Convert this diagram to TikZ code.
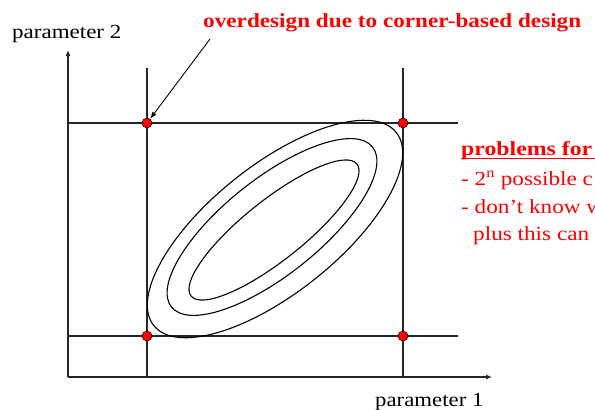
\documentclass[tikz,border=0pt]{standalone}
\usepackage{fontspec}
\setmainfont{Liberation Serif}
\usetikzlibrary{arrows.meta}
\tikzset{
  axisline/.style={line width=1.1pt, draw=black!85},
  gridline/.style={line width=1.1pt, draw=black!85},
  contour/.style={line width=1.1pt, draw=black},
  corner/.style={circle, fill=red, draw=black, line width=0.5pt, minimum size=10pt, inner sep=0pt},
  lab/.style={inner sep=0pt, anchor=base west, font=\fontsize{20}{24}\selectfont},
  redlab/.style={lab, text=red},
}
\newcommand{\wide}[2]{\scalebox{#1}[1]{#2}}
\begin{document}
\begin{tikzpicture}[x=1pt,y=-1pt]
\useasboundingbox (0,0) rectangle (595,410);
\clip (0,0) rectangle (595,410);
% axes
\coordinate (o) at (68,377);
\coordinate (ytop) at (68,50);
\coordinate (xend) at (492,377);
\draw[axisline, -{Latex[length=6pt,width=5pt]}] (o) -- (ytop);
\draw[axisline, -{Latex[length=6pt,width=5pt]}] (o) -- (xend);
% grid lines
\coordinate (v1t) at (147,68); \coordinate (v1b) at (147,377);
\coordinate (v2t) at (403,68); \coordinate (v2b) at (403,377);
\coordinate (h1l) at (68,123); \coordinate (h1r) at (458,123);
\coordinate (h2l) at (68,336); \coordinate (h2r) at (458,336);
\draw[gridline] (v1t) -- (v1b);
\draw[gridline] (v2t) -- (v2b);
\draw[gridline] (h1l) -- (h1r);
\draw[gridline] (h2l) -- (h2r);
% contours
\draw[contour, rotate around={38.5:(275,229)}] (275,229) ellipse [x radius=155pt, y radius=64pt];
\draw[contour, rotate around={38.5:(272,227)}] (272,227) ellipse [x radius=128.5pt, y radius=48pt];
\draw[contour, rotate around={38.5:(274,230)}] (274,230) ellipse [x radius=106pt, y radius=30pt];
% corners
\node[corner] (c1) at (147,123) {};
\node[corner] (c2) at (403,123) {};
\node[corner] (c3) at (147,336) {};
\node[corner] (c4) at (403,336) {};
% labels
\node[lab] (p2) at (12,38) {\wide{1.15}{parameter 2}};
\node[lab] (p1) at (375,406) {\wide{1.14}{parameter 1}};
\node[redlab, font=\fontsize{20}{24}\selectfont\bfseries] (title) at (203,27) {\wide{1.16}{overdesign due to corner-based design}};
\coordinate (as) at (210,39);
\draw[line width=0.9pt, -{Latex[length=7pt,width=5pt]}] (as) -- (c1);
% problems list
\node[redlab, font=\fontsize{20}{24}\selectfont\bfseries] (pr) at (461,155) {\wide{1.19}{problems for}};
\coordinate (ul1) at (461,158.5); \coordinate (ul2) at (595,158.5);
\draw[red, line width=1.6pt] (ul1) -- (ul2);
\node[redlab] (l1) at (461,185) {\wide{1.16}{- 2\textsuperscript{n} possible c}};
\node[redlab] (l2) at (461,213) {\wide{1.16}{- don’t know w}};
\node[redlab] (l3) at (473,240) {\wide{1.16}{plus this can}};
\end{tikzpicture}
\end{document}
